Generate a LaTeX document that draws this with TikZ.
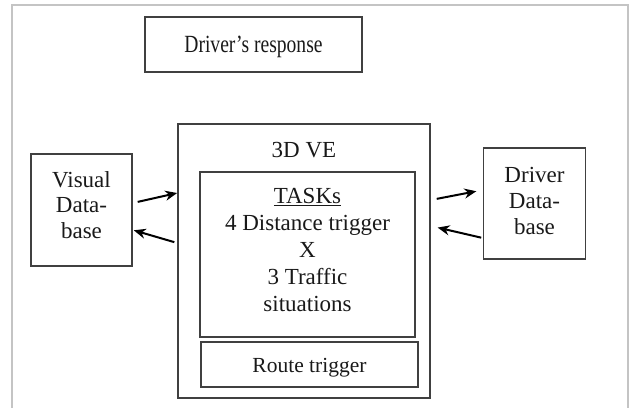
\documentclass[tikz,border=0pt]{standalone}
\usepackage{fontspec}
\setmainfont{Liberation Serif}
\usetikzlibrary{arrows.meta}
\definecolor{boxline}{HTML}{404040}
\definecolor{frameline}{HTML}{C4C4C4}
\tikzset{
  box/.style={draw=boxline, line width=1.6pt, rectangle, inner sep=0pt},
  txt/.style={font=\fontsize{23}{26}\selectfont, align=center, inner sep=0pt, text=black!90},
  arr/.style={draw=black, line width=2pt, -{Stealth[length=12pt,width=10pt]}},
}
\begin{document}
\begin{tikzpicture}[x=1pt,y=-1pt]
\useasboundingbox (0,0) rectangle (629,407);
\clip (0,0) rectangle (629,407);
\draw[frameline, line width=1.5pt] (12,5) rectangle (628,415);
% boxes
\node[box, minimum width=217pt, minimum height=55pt] (resp) at (253.5,44.5) {};
\node[txt, anchor=base, font=\fontsize{21.5}{24}\selectfont] (resptext) at (253.5,52) {\scalebox{0.91}[1.15]{Driver's response}};
\node[box, minimum width=252pt, minimum height=274pt] (ve) at (304,261) {};
\node[txt, anchor=base] (vetext) at (304,157) {3D VE};
\node[box, minimum width=215pt, minimum height=165pt] (tasks) at (307.5,254.5) {};
\node[txt, font=\fontsize{23}{27}\selectfont] (taskstext) at (307.5,250) {\underline{TASKs}\\4 Distance trigger\\X\\3 Traffic\\situations};
\node[box, minimum width=217pt, minimum height=45pt] (route) at (309.5,364.5) {};
\node[txt, anchor=base, font=\fontsize{21.5}{24}\selectfont] (routetext) at (309.5,372) {Route trigger};
\node[box, minimum width=101pt, minimum height=112pt] (vis) at (81.5,210) {};
\node[txt, font=\fontsize{23}{25.5}\selectfont] (vistext) at (81.5,205) {Visual\\Data-\\base};
\node[box, minimum width=102pt, minimum height=111pt] (drv) at (534.5,203.5) {};
\node[txt, font=\fontsize{23}{26}\selectfont] (drvtext) at (534.5,201) {Driver\\Data-\\base};
% arrows
\draw[arr, shorten <=5pt] ([yshift=7pt]vis.east) -- ([yshift=68pt]ve.west);
\draw[arr, shorten <=3pt, shorten >=1pt] ([yshift=18pt]ve.west) -- ([yshift=-20pt]vis.east);
\draw[arr, shorten <=6pt, shorten >=6.5pt] ([yshift=61pt]ve.east) -- ([yshift=13.5pt]drv.west);
\draw[arr, shorten <=1.5pt, shorten >=7pt] ([yshift=-34.5pt]drv.west) -- ([yshift=35pt]ve.east);
\end{tikzpicture}
\end{document}
